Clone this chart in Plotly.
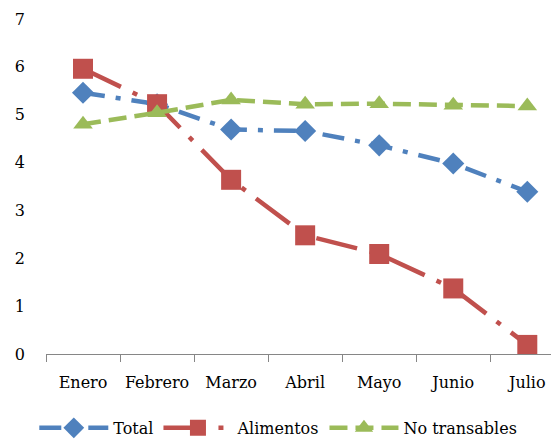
import plotly.graph_objects as go

# Months on the category axis
meses = ["Enero", "Febrero", "Marzo", "Abril", "Mayo", "Junio", "Julio"]

# Series values
total = [5.46, 5.22, 4.69, 4.66, 4.36, 3.98, 3.39]
alimentos = [5.96, 5.22, 3.64, 2.48, 2.09, 1.37, 0.19]
no_transables = [4.80, 5.04, 5.31, 5.22, 5.23, 5.20, 5.18]

AZUL = "#4F81BD"
ROJO = "#C0504D"
VERDE = "#9BBB59"
FUENTE = "DejaVu Serif"

fig = go.Figure()

fig.add_trace(go.Scatter(
    x=meses, y=total, name="Total", mode="lines+markers",
    line=dict(color=AZUL, width=4.5, dash="22px,11px,5px,11px"),
    marker=dict(symbol="diamond", size=17, color=AZUL, line=dict(width=0)),
    cliponaxis=False,
))
fig.add_trace(go.Scatter(
    x=meses, y=alimentos, name="Alimentos", mode="lines+markers",
    line=dict(color=ROJO, width=4.5, dash="42px,13px,5px,13px"),
    marker=dict(symbol="square", size=20, color=ROJO, line=dict(width=0)),
    cliponaxis=False,
))
fig.add_trace(go.Scatter(
    x=meses, y=no_transables, name="No transables", mode="lines+markers",
    line=dict(color=VERDE, width=4.5, dash="18px,8px"),
    marker=dict(symbol="triangle-up", size=17, color=VERDE, line=dict(width=0)),
    cliponaxis=False,
))

fig.update_layout(
    width=551, height=439,
    margin=dict(l=46, r=0, t=19, b=85, autoexpand=False),
    paper_bgcolor="white", plot_bgcolor="white",
    font=dict(family=FUENTE, size=16, color="#000000"),
    showlegend=True,
    legend=dict(
        orientation="h", x=0.46, xanchor="center", y=-0.17, yanchor="top",
        font=dict(family=FUENTE, size=16, color="#000000"),
        itemwidth=69,
    ),
    xaxis=dict(
        type="category", range=[-0.5, 6.32],
        showline=True, linecolor="#868686", linewidth=1,
        ticks="outside", ticklen=7, tickcolor="#868686", tickwidth=1,
        tickson="boundaries", showgrid=False, zeroline=False,
        tickangle=0, automargin=False, ticklabelstandoff=14,
        tickfont=dict(family=FUENTE, size=16),
    ),
    yaxis=dict(
        range=[0, 7], dtick=1, tick0=0,
        showline=False, showgrid=False, zeroline=False,
        ticks="", ticklabelstandoff=20, automargin=False,
        tickfont=dict(family=FUENTE, size=16),
    ),
)

fig.write_html("out.html")
